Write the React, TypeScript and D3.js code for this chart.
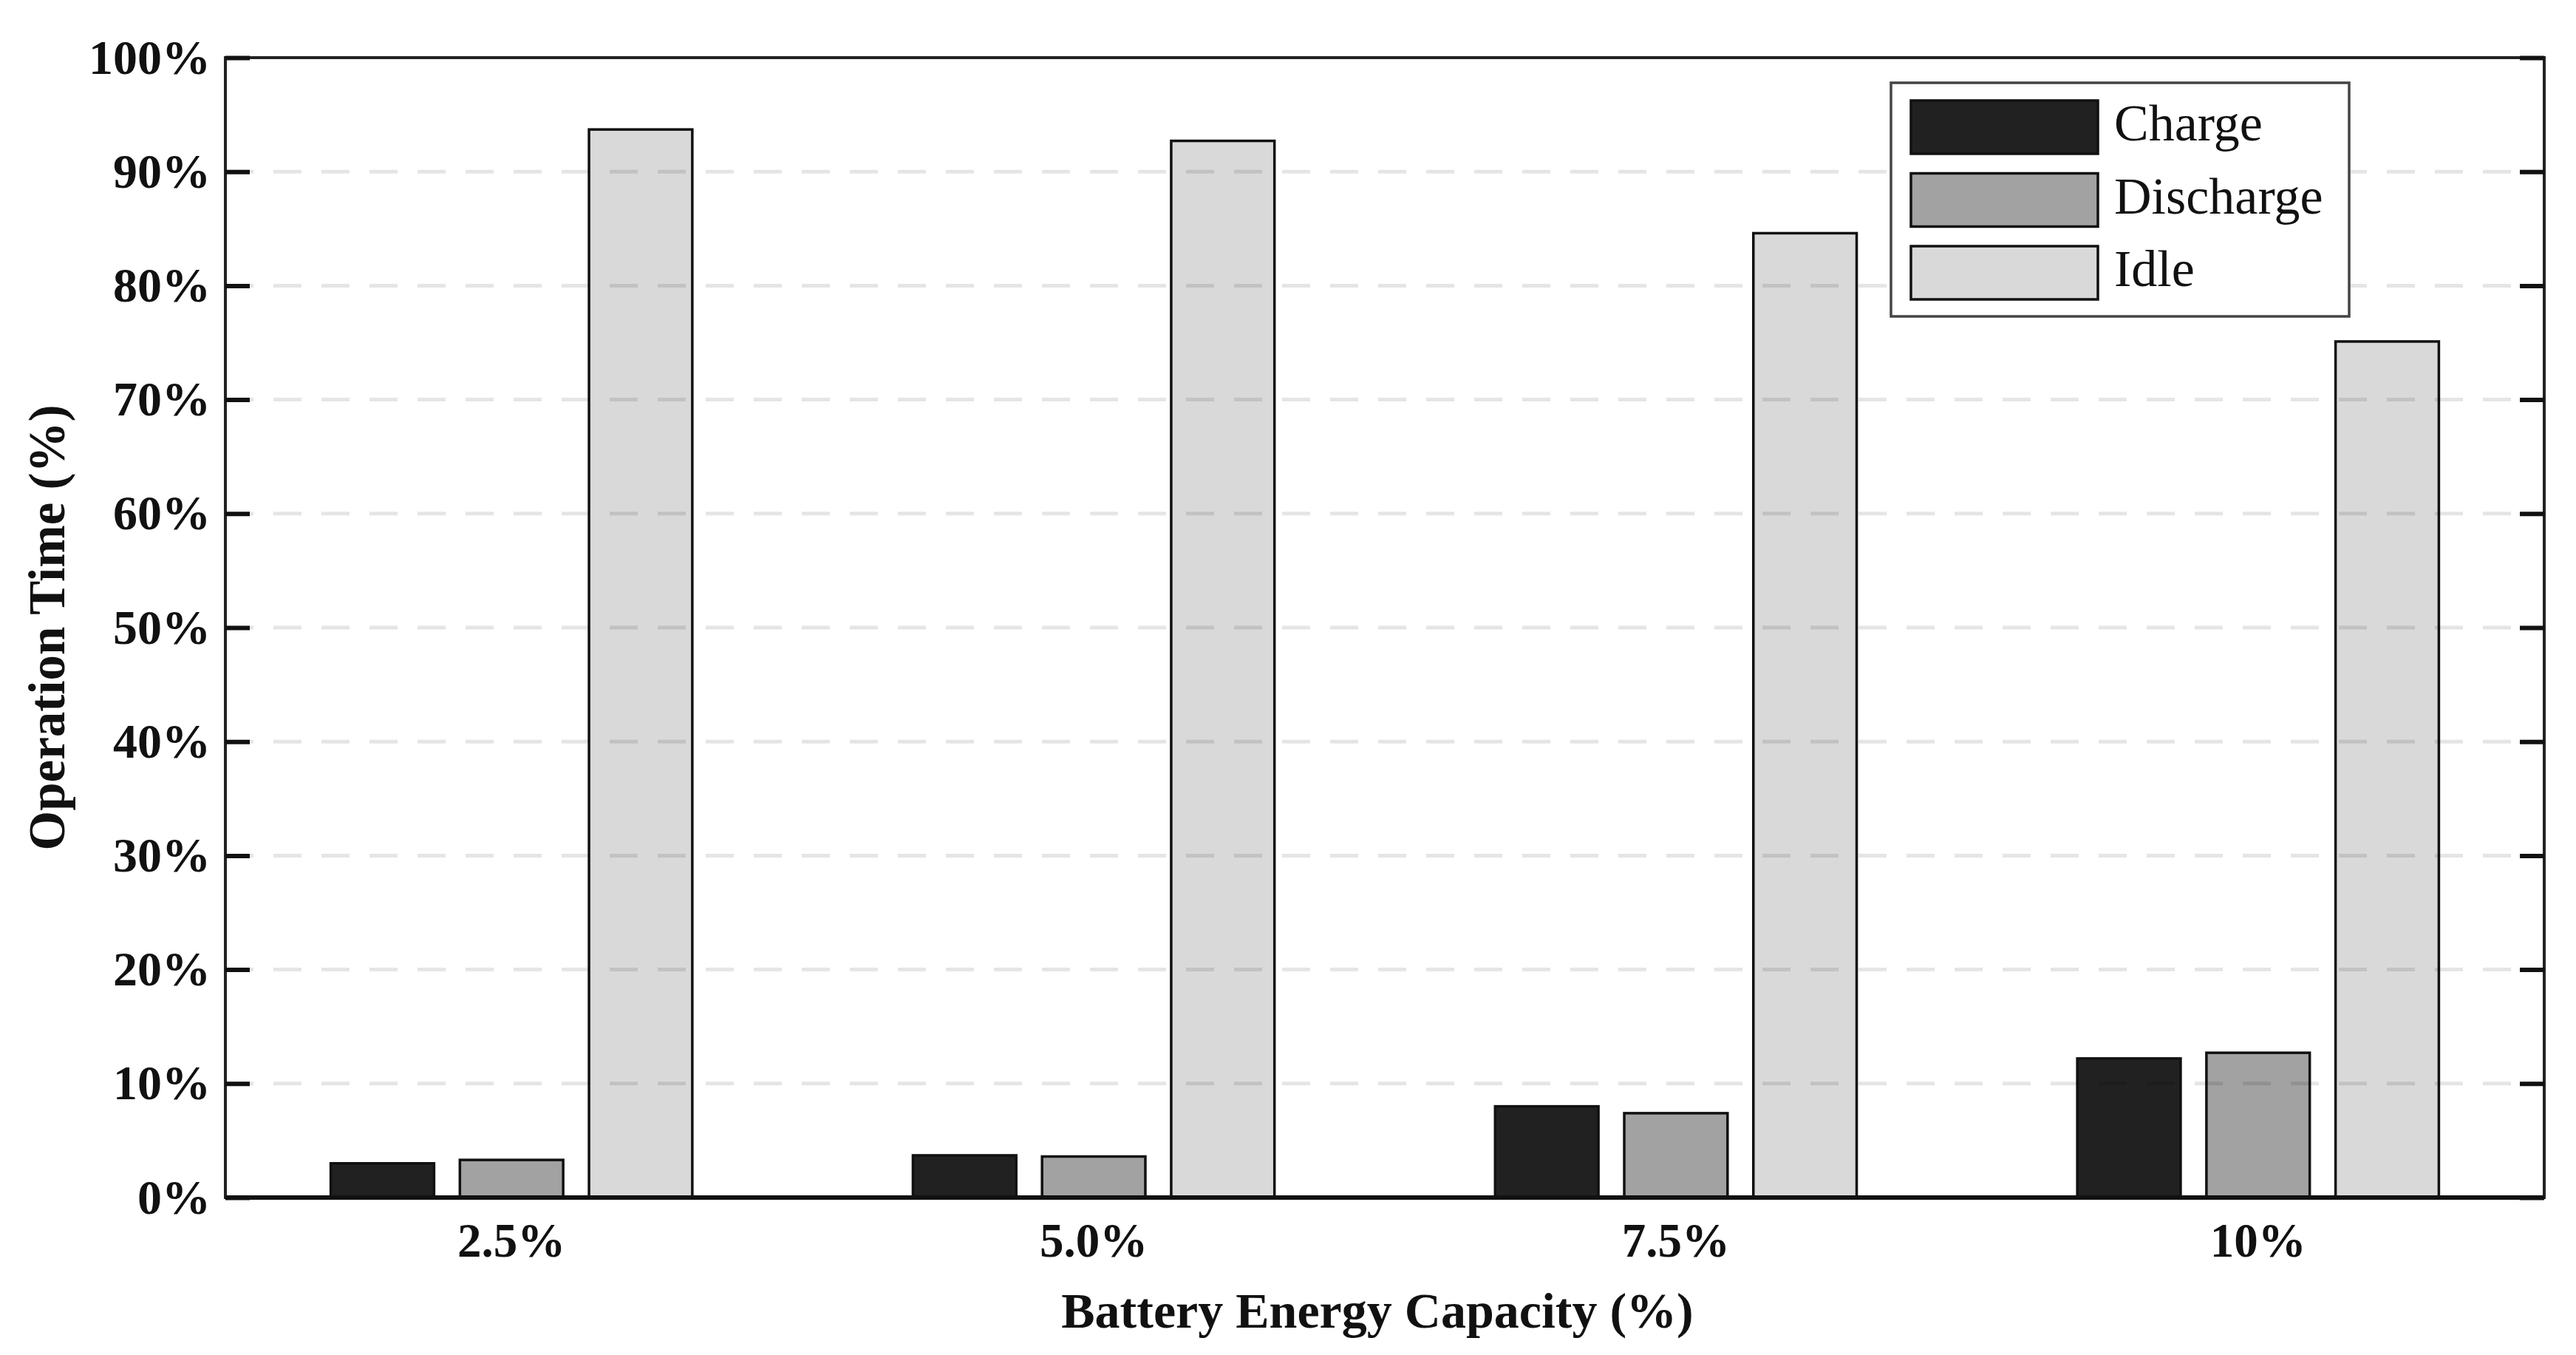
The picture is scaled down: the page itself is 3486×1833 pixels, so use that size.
import { useEffect, useRef } from "react";
import * as d3 from "d3";

const categories = ["2.5%", "5.0%", "7.5%", "10%"];
const seriesNames = ["Charge", "Discharge", "Idle"];
const chargeValues = [3.0, 3.7, 8.0, 12.2];
const dischargeValues = [3.3, 3.6, 7.4, 12.7];
const idleValues = [93.7, 92.7, 84.6, 75.1];
const yTicks = [0, 10, 20, 30, 40, 50, 60, 70, 80, 90, 100];
const seriesColors = ["#212121", "#a2a2a2", "#d9d9d9"];

const FONT = "'Liberation Serif', 'Times New Roman', serif";

export default function App() {
    const chartRef = useRef<SVGSVGElement>(null);

    useEffect(() => {
        if (!chartRef.current) return;
        document.body.style.margin = "0";

        const svg = d3.select(chartRef.current);
        svg.selectAll("*").remove();

        const width = 3486;
        const height = 1833;
        const margin = { top: 78, right: 43, bottom: 213, left: 305 };
        const innerW = width - margin.left - margin.right;
        const innerH = height - margin.top - margin.bottom;

        svg.attr("width", width).attr("height", height);
        svg.append("rect").attr("width", width).attr("height", height).attr("fill", "white");

        const g = svg.append("g").attr("transform", `translate(${margin.left},${margin.top})`);

        const valuesBySeries = [chargeValues, dischargeValues, idleValues];
        const rows = categories.map((c, i) => ({
            category: c,
            values: seriesNames.map((s, j) => ({ series: s, value: valuesBySeries[j][i] })),
        }));

        const x0 = d3.scaleBand().domain(categories).range([0, innerW]).paddingInner(0.379).paddingOuter(0.181);
        const x1 = d3.scaleBand().domain(seriesNames).range([0, x0.bandwidth()]).paddingInner(0.2).paddingOuter(0);
        const y = d3.scaleLinear().domain([0, 100]).range([innerH, 0]);
        const color = d3.scaleOrdinal<string, string>().domain(seriesNames).range(seriesColors);

        // Bars
        const groups = g
            .selectAll("g.group")
            .data(rows)
            .join("g")
            .attr("class", "group")
            .attr("transform", (d) => `translate(${x0(d.category)},0)`);

        groups
            .selectAll("rect")
            .data((d) => d.values)
            .join("rect")
            .attr("x", (d) => x1(d.series)!)
            .attr("y", (d) => y(d.value))
            .attr("width", x1.bandwidth())
            .attr("height", (d) => innerH - y(d.value))
            .attr("fill", (d) => color(d.series))
            .attr("stroke", "#111")
            .attr("stroke-width", 3.5);

        // Dashed gridlines drawn over the bars
        g.append("g")
            .selectAll("line")
            .data(yTicks.filter((t) => t > 0 && t < 100))
            .join("line")
            .attr("x1", 0)
            .attr("x2", innerW)
            .attr("y1", (d) => y(d))
            .attr("y2", (d) => y(d))
            .attr("stroke", "#000")
            .attr("stroke-opacity", 0.1)
            .attr("stroke-width", 5)
            .attr("stroke-dasharray", "38 27");

        // Frame
        g.append("rect")
            .attr("width", innerW)
            .attr("height", innerH)
            .attr("fill", "none")
            .attr("stroke", "#222")
            .attr("stroke-width", 4);

        // Heavier bottom axis line
        g.append("line")
            .attr("x1", 0)
            .attr("x2", innerW)
            .attr("y1", innerH)
            .attr("y2", innerH)
            .attr("stroke", "#111")
            .attr("stroke-width", 6);

        // Y axis (ticks inward, labels outside)
        const yAxis = g.append("g").call(
            d3.axisLeft(y).tickValues(yTicks).tickSizeInner(-33).tickSizeOuter(0).tickPadding(20).tickFormat((d) => `${d}%`)
        );
        yAxis.select(".domain").remove();
        yAxis.selectAll(".tick line").attr("stroke", "#111").attr("stroke-width", 6);
        yAxis
            .selectAll(".tick text")
            .attr("font-family", FONT)
            .attr("font-weight", "bold")
            .attr("font-size", 66)
            .attr("fill", "#111");

        // Right side ticks
        const yRight = g
            .append("g")
            .attr("transform", `translate(${innerW},0)`)
            .call(d3.axisRight(y).tickValues(yTicks).tickSizeInner(-33).tickSizeOuter(0).tickFormat(() => ""));
        yRight.select(".domain").remove();
        yRight.selectAll(".tick line").attr("stroke", "#111").attr("stroke-width", 6);

        // X axis labels
        const xAxis = g
            .append("g")
            .attr("transform", `translate(0,${innerH})`)
            .call(d3.axisBottom(x0).tickSize(0).tickPadding(34));
        xAxis.select(".domain").remove();
        xAxis
            .selectAll(".tick text")
            .attr("font-family", FONT)
            .attr("font-weight", "bold")
            .attr("font-size", 65)
            .attr("fill", "#111");

        // Axis titles
        g.append("text")
            .attr("x", innerW / 2 - 10)
            .attr("y", innerH + 176)
            .attr("text-anchor", "middle")
            .attr("font-family", FONT)
            .attr("font-weight", "bold")
            .attr("font-size", 68)
            .attr("fill", "#111")
            .text("Battery Energy Capacity (%)");

        g.append("text")
            .attr("transform", `translate(${-234},${innerH / 2}) rotate(-90)`)
            .attr("text-anchor", "middle")
            .attr("dominant-baseline", "middle")
            .attr("font-family", FONT)
            .attr("font-weight", "bold")
            .attr("font-size", 69)
            .attr("fill", "#111")
            .text("Operation Time (%)");

        // Legend
        const legendX = 2559 - margin.left;
        const legendY = 112 - margin.top;
        const legend = g.append("g").attr("transform", `translate(${legendX},${legendY})`);
        legend
            .append("rect")
            .attr("width", 620)
            .attr("height", 316)
            .attr("fill", "white")
            .attr("stroke", "#444")
            .attr("stroke-width", 3.5);

        const items = legend
            .selectAll("g.item")
            .data(seriesNames)
            .join("g")
            .attr("class", "item")
            .attr("transform", (_, i) => `translate(27,${24 + i * 98.5})`);

        items
            .append("rect")
            .attr("width", 253)
            .attr("height", 72)
            .attr("fill", (d) => color(d))
            .attr("stroke", "#111")
            .attr("stroke-width", 3.5);

        items
            .append("text")
            .attr("x", 275)
            .attr("y", 38)
            .attr("dominant-baseline", "middle")
            .attr("font-family", FONT)
            .attr("font-size", 70)
            .attr("fill", "#111")
            .text((d) => d);
    }, []);

    return <svg ref={chartRef} style={{ display: "block" }} />;
}
